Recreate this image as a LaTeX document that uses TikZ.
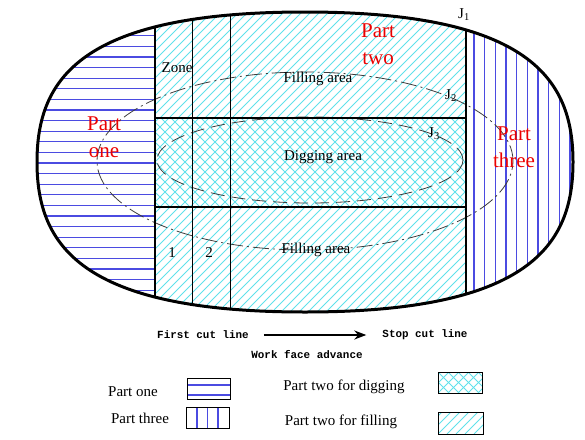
\documentclass[tikz,border=0pt]{standalone}
\usepackage{fontspec}
\setmainfont{Liberation Serif}
\setmonofont{Liberation Mono}
\usetikzlibrary{arrows.meta}
\definecolor{hblue}{RGB}{75,75,225}
\definecolor{hcyan}{RGB}{95,225,235}
\definecolor{pred}{RGB}{235,0,0}
\definecolor{dgray}{RGB}{60,60,60}
\tikzset{
  outerpath/.style={insert path={(573,162) .. controls (573,79.5) and (530.1,12) .. (305,12)
      .. controls (79.9,12) and (37,79.5) .. (37,162)
      .. controls (37,244.5) and (79.9,312) .. (305,312)
      .. controls (530.1,312) and (573,244.5) .. (573,162) -- cycle}},
  outline/.style={line width=3pt, black, line join=round},
  divline/.style={line width=2.4pt, black},
  zoneline/.style={line width=0.9pt, black},
  bhatch/.style={hblue, line width=1.3pt},
  chatch/.style={hcyan, line width=0.9pt},
  dashdotline/.style={dgray, line width=0.8pt, dash pattern=on 16pt off 4pt on 2pt off 4pt},
  dashline/.style={dgray, line width=0.8pt, dash pattern=on 14pt off 7pt},
  lbl/.style={font=\fontsize{15}{17}\selectfont, inner sep=0pt},
  redlbl/.style={text=pred, font=\fontsize{21}{27}\selectfont, align=center, inner sep=0pt},
  monolbl/.style={font=\ttfamily\bfseries\fontsize{10.9}{12}\selectfont, inner sep=0pt},
  legbox/.style={line width=0.8pt, black},
  advance/.style={line width=2.4pt, -{Stealth[length=12pt,width=9pt]}}
}
\begin{document}
\begin{tikzpicture}[x=1pt,y=-1pt]
\useasboundingbox (0,0) rectangle (585,439);

% Part one hatching
\begin{scope}
  \clip[outerpath];
  \clip (20,12) rectangle (155,312);
  \foreach \k in {-9,...,18} \draw[bhatch] (20,110+10.6*\k) -- (155,110+10.6*\k);
\end{scope}
% Part three hatching
\begin{scope}
  \clip[outerpath];
  \clip (466,12) rectangle (590,312);
  \foreach \k in {0,...,10} \draw[bhatch] (474+10.65*\k,0) -- (474+10.65*\k,330);
\end{scope}
% Part two: filling and digging areas
\begin{scope}
  \clip[outerpath];
  \begin{scope}
    \clip (155,12) rectangle (466,118);
    \foreach \i in {-34,...,36} \draw[chatch] (155+9*\i,312) -- ++(300,-300);
  \end{scope}
  \begin{scope}
    \clip (155,207) rectangle (466,312);
    \foreach \i in {-34,...,36} \draw[chatch] (155+9*\i,312) -- ++(300,-300);
  \end{scope}
  \begin{scope}
    \clip (155,118) rectangle (466,207);
    \foreach \i in {-31,...,32} \draw[chatch] (155+10*\i,312) -- ++(300,-300);
    \foreach \i in {-31,...,32} \draw[chatch] (155+10*\i,12) -- ++(300,300);
  \end{scope}
\end{scope}

% dash lines
\draw[dashdotline] (305,161) ellipse [x radius=208pt, y radius=89pt];
\draw[dashline] (310,160) ellipse [x radius=153pt, y radius=43pt];

% division lines
\begin{scope}
  \clip[outerpath];
  \draw[divline] (155,0) -- (155,330);
  \draw[divline] (466,0) -- (466,330);
  \draw[divline] (155,118) -- (466,118);
  \draw[divline] (155,207) -- (466,207);
  \draw[zoneline] (192.5,0) -- (192.5,330);
  \draw[zoneline] (230,0) -- (230,330);
\end{scope}

% outline
\draw[outline, outerpath];

% labels
\node[lbl] (zone) at (177,68) {Zone};
\node[lbl] (fill1) at (318,79) {Filling area};
\node[lbl] (dig) at (323,157) {Digging area};
\node[lbl] (fill2) at (316,250) {Filling area};
\node[lbl] (z1) at (172,253) {1};
\node[lbl] (z2) at (209,253) {2};
\node[lbl] (j1) at (464,15) {J\textsubscript{1}};
\node[lbl] (j2) at (451,96) {J\textsubscript{2}};
\node[lbl] (j3) at (434,134) {J\textsubscript{3}};
\node[redlbl] (p1) at (104,137) {Part\\one};
\node[redlbl] (p2) at (378,44) {Part\\two};
\node[redlbl] (p3) at (514,147) {Part\\three};

% advance arrow
\node[monolbl] (fc) at (203,335) {First cut line};
\node[monolbl] (sc) at (425,335) {Stop cut line};
\node[monolbl] (wfa) at (307,355) {Work face advance};
\draw[advance, shorten <=15pt, shorten >=16pt] (fc) -- (sc);

% legend
\node[lbl] (lg1) at (133,392) {Part one};
\node[lbl] (lg2) at (140,418) {Part three};
\node[lbl] (lg3) at (344,387) {Part two for digging};
\node[lbl] (lg4) at (341,422) {Part two for filling};

\draw[bhatch] (187,385) -- (230,385);
\draw[bhatch] (187,395) -- (230,395);
\draw[legbox] (187,378) rectangle (230,399);

\foreach \xx in {197,207.5,218} \draw[bhatch] (\xx,407) -- (\xx,428);
\draw[legbox] (186,407) rectangle (229,428);

\begin{scope}
  \clip (438,372) rectangle (482,393);
  \foreach \i in {-3,...,5} \draw[chatch] (438+10*\i,393) -- ++(25,-25);
  \foreach \i in {-3,...,5} \draw[chatch] (438+10*\i,372) -- ++(25,25);
\end{scope}
\draw[legbox] (438,372) rectangle (482,393);

\begin{scope}
  \clip (438,412) rectangle (483,434);
  \foreach \i in {-3,...,6} \draw[chatch] (438+9*\i,434) -- ++(25,-25);
\end{scope}
\draw[legbox] (438,412) rectangle (483,434);
\end{tikzpicture}
\end{document}
